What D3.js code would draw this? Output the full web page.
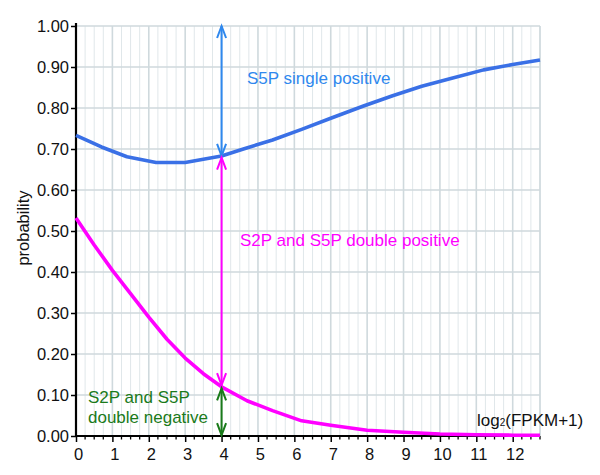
<!DOCTYPE html>
<html><head><meta charset="utf-8">
<script src="https://cdn.jsdelivr.net/npm/d3@7"></script>
<style>body{margin:0;background:#fff}svg{display:block}text{font-family:Arial,"Liberation Sans",sans-serif}</style>
</head><body><svg id="c" width="600" height="475"></svg>
<script>
const s5pX = [0,0.7,1.4,2.2,3.0,4.0,4.6,5.4,6.2,7.0,7.9,8.7,9.5,10.3,11.2,12.0,12.75];
const s5pY = [0.733,0.705,0.681,0.667,0.667,0.683,0.700,0.722,0.748,0.775,0.805,0.830,0.853,0.872,0.893,0.906,0.917];
const dnX = [0,0.5,1.0,1.45,2.0,2.5,3.0,3.5,4.0,4.7,5.4,6.2,7.0,8.0,9.0,10.0,11.0,12.0,12.75];
const dnY = [0.532,0.466,0.404,0.353,0.29,0.236,0.19,0.152,0.12,0.086,0.062,0.037,0.026,0.014,0.009,0.005,0.003,0.002,0.002];
const xTicks = [0,1,2,3,4,5,6,7,8,9,10,11,12];
const yTicks = [0,0.1,0.2,0.3,0.4,0.5,0.6,0.7,0.8,0.9,1.0];
const arrowX = 4;
const arrowTop = 1.0, arrowMid = 0.683, arrowLow = 0.12;
const labels = {single:"S5P single positive", dbl:"S2P and S5P double positive", neg1:"S2P and S5P", neg2:"double negative"};

const svg = d3.select("#c");
const x = d3.scaleLinear().domain([0,12.75]).range([76,540]);
const y = d3.scaleLinear().domain([0,1]).range([436,26]);
const g = svg.append("g");

// minor vertical grid
const minor = d3.range(0,12.75+1e-9,0.25).filter(v=>Math.abs(v-Math.round(v))>1e-6);
g.selectAll(".vmin").data(minor).join("line").attr("x1",d=>x(d)).attr("x2",d=>x(d)).attr("y1",y(1)).attr("y2",y(0))
 .attr("stroke","#e0e7ea").attr("stroke-width",1);
g.selectAll(".vmaj").data(xTicks.concat([12.75])).join("line").attr("x1",d=>x(d)).attr("x2",d=>x(d)).attr("y1",y(1)).attr("y2",y(0))
 .attr("stroke","#cfd9dd").attr("stroke-width",1.6);
g.selectAll(".hmaj").data(yTicks).join("line").attr("x1",x(0)).attr("x2",x(12.75)).attr("y1",d=>y(d)).attr("y2",d=>y(d))
 .attr("stroke","#cfd9dd").attr("stroke-width",1.6);

// axes
const ya = svg.append("g").attr("transform",`translate(${x(0)},0)`)
 .call(d3.axisLeft(y).tickValues(yTicks).tickFormat(d3.format(".2f")).tickSize(5).tickPadding(2));
ya.selectAll("text").attr("font-size",16.5).attr("fill","#111");
ya.select(".domain").attr("stroke","#000").attr("stroke-width",2.2).attr("d",`M0,${y(1)-3}V${y(0)}`);
ya.selectAll(".tick line").attr("stroke","#000").attr("stroke-width",1.5);

const xa = svg.append("g").attr("transform",`translate(0,${y(0)})`)
 .call(d3.axisBottom(x).tickValues(xTicks).tickFormat(d3.format("d")).tickSize(6).tickPadding(6));
xa.selectAll("text").attr("font-size",16.5).attr("fill","#111").attr("dx",2);
xa.select(".domain").attr("stroke","#000").attr("stroke-width",2.2).attr("d",`M${x(0)-1},0H${x(12.75)}`);
xa.selectAll(".tick line").attr("stroke","#000").attr("stroke-width",1.5);
svg.append("g").selectAll("line").data(minor).join("line")
 .attr("x1",d=>x(d)).attr("x2",d=>x(d)).attr("y1",y(0)).attr("y2",y(0)+3.5).attr("stroke","#000").attr("stroke-width",1.3);

// curves
const line = d3.line().x(d=>x(d[0])).y(d=>y(d[1]));
svg.append("path").datum(s5pX.map((v,i)=>[v,s5pY[i]])).attr("d",line).attr("fill","none")
 .attr("stroke","#3a70e6").attr("stroke-width",3.6).attr("stroke-linejoin","round");
svg.append("path").datum(dnX.map((v,i)=>[v,dnY[i]])).attr("d",line).attr("fill","none")
 .attr("stroke","#ff00ff").attr("stroke-width",3.6).attr("stroke-linejoin","round");

// arrows
function darrow(v0,v1,color,w){
  const ax = x(arrowX), y0=y(v0), y1=y(v1);
  const a = svg.append("g").attr("stroke",color).attr("stroke-width",w).attr("fill","none");
  a.append("line").attr("x1",ax).attr("x2",ax).attr("y1",y0).attr("y2",y1);
  const hs=12, hw=4.5;
  a.append("path").attr("d",`M${ax-hw},${y0+hs}L${ax},${y0}L${ax+hw},${y0+hs}`);
  a.append("path").attr("d",`M${ax-hw},${y1-hs}L${ax},${y1}L${ax+hw},${y1-hs}`);
}
darrow(arrowTop,arrowMid,"#2f88ee",2);
darrow(arrowMid-0.004,arrowLow+0.004,"#ff00ff",2);
darrow(arrowLow-0.004,0.002,"#1a7a1a",2);

// labels
svg.append("text").attr("x",247).attr("y",84).attr("font-size",17).attr("fill","#2f88ee").text(labels.single);
svg.append("text").attr("x",240).attr("y",246).attr("font-size",17).attr("fill","#ff00ff").text(labels.dbl);
svg.append("text").attr("x",88).attr("y",403).attr("font-size",17).attr("fill","#1a7a1a").text(labels.neg1);
svg.append("text").attr("x",88).attr("y",423).attr("font-size",17).attr("fill","#1a7a1a").text(labels.neg2);
const xl = svg.append("text").attr("x",477).attr("y",426).attr("font-size",17).attr("fill","#111");
xl.append("tspan").text("log");
xl.append("tspan").attr("font-size",10).text("2");
xl.append("tspan").text("(FPKM+1)");
svg.append("text").attr("transform","translate(29,228) rotate(-90)").attr("text-anchor","middle")
 .attr("font-size",16.5).attr("fill","#111").text("probability");
</script></body></html>
